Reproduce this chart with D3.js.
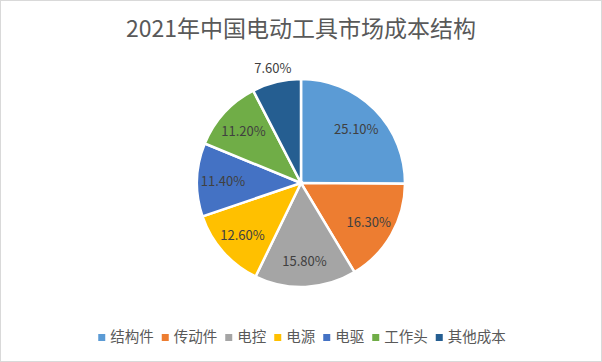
<!DOCTYPE html>
<html lang="zh">
<head>
    <meta charset="UTF-8">
    <title>2021年中国电动工具市场成本结构</title>
    <script src="https://d3js.org/d3.v7.min.js"></script>
    <style>
        body {
            margin: 0;
            background: #fff;
            font-family: 'Noto Sans CJK SC', 'Noto Sans', sans-serif;
        }
        svg {
            display: block;
        }
        .title {
            font-size: 23px;
            fill: #595959;
            text-anchor: middle;
        }
        .slice-label {
            font-size: 13px;
            fill: #404040;
            text-anchor: middle;
            dominant-baseline: central;
        }
        .legend text {
            font-size: 14.5px;
            fill: #595959;
        }
    </style>
</head>
<body>
    <svg width="602" height="362"></svg>

    <script>
        const categories = ['结构件', '传动件', '电控', '电源', '电驱', '工作头', '其他成本'];
        const shares = [25.1, 16.3, 15.8, 12.6, 11.4, 11.2, 7.6];
        const colors = ['#5B9BD5', '#ED7D31', '#A5A5A5', '#FFC000', '#4472C4', '#70AD47', '#255E91'];

        const width = 602;
        const height = 362;
        const svg = d3.select('svg');

        // chart border
        svg.append('rect')
            .attr('x', 0.5).attr('y', 0.5)
            .attr('width', width - 1).attr('height', height - 1)
            .attr('fill', '#fff')
            .attr('stroke', '#d9d9d9');

        svg.append('text')
            .attr('class', 'title')
            .attr('x', width / 2)
            .attr('y', 37)
            .text('2021年中国电动工具市场成本结构');

        const cx = 301, cy = 183, radius = 104;

        const data = categories.map((c, i) => ({ name: c, value: shares[i], color: colors[i] }));
        const pie = d3.pie().sort(null).value(d => d.value);
        const arcs = pie(data);

        const arc = d3.arc().innerRadius(0).outerRadius(radius);
        const labelArc = d3.arc().innerRadius(radius * 0.75).outerRadius(radius * 0.75);
        const outerLabelArc = d3.arc().innerRadius(radius + 15).outerRadius(radius + 15);

        const g = svg.append('g').attr('transform', `translate(${cx},${cy})`);

        g.selectAll('path')
            .data(arcs)
            .enter().append('path')
            .attr('d', arc)
            .attr('fill', d => d.data.color)
            .attr('stroke', '#fff')
            .attr('stroke-width', 2.5);

        // small slices get their label outside
        g.selectAll('.slice-label')
            .data(arcs)
            .enter().append('text')
            .attr('class', 'slice-label')
            .attr('transform', d => {
                const p = d.data.value < 10 ? outerLabelArc.centroid(d) : labelArc.centroid(d);
                return `translate(${p[0]},${p[1]})`;
            })
            .text(d => d.data.value.toFixed(2) + '%');

        // Legend
        const legend = svg.append('g').attr('class', 'legend');
        const items = legend.selectAll('g')
            .data(data)
            .enter().append('g');

        items.append('rect')
            .attr('width', 7)
            .attr('height', 7)
            .attr('y', -7)
            .attr('fill', d => d.color);

        items.append('text')
            .attr('x', 12)
            .attr('y', 0)
            .attr('dy', '0.05em')
            .text(d => d.name);

        let xPos = 0;
        items.each(function () {
            const w = 12 + d3.select(this).select('text').node().getComputedTextLength();
            d3.select(this).attr('transform', `translate(${xPos},0)`);
            xPos += w + 8;
        });
        const totalW = xPos - 8;
        legend.attr('transform', `translate(${(width - totalW) / 2 + 1},341)`);
    </script>
</body>
</html>
